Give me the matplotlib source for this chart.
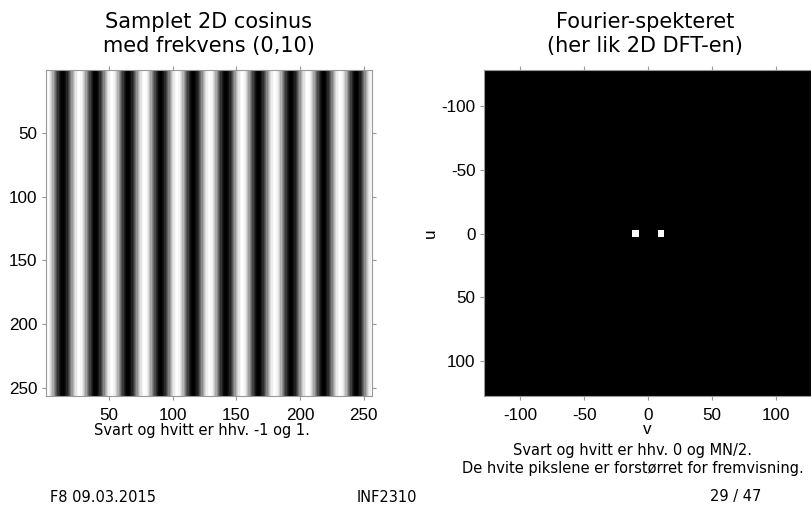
import numpy as np
import matplotlib
matplotlib.use("Agg")
import matplotlib.pyplot as plt

plt.rcParams["axes.unicode_minus"] = False

# bildestorrelse og frekvens
M, N = 256, 256
u0, v0 = 0, 10
forstorr = 2  # hvite piksler forstorres med +-2 for visning

titles = ["Samplet 2D cosinus\nmed frekvens (0,10)",
          "Fourier-spekteret\n(her lik 2D DFT-en)"]
captions = ["Svart og hvitt er hhv. -1 og 1.",
            "Svart og hvitt er hhv. 0 og MN/2.\nDe hvite pikslene er forstørret for fremvisning."]
left_ticks = [50, 100, 150, 200, 250]
right_ticks = [-100, -50, 0, 50, 100]
footer = ["F8 09.03.2015", "INF2310", "29 / 47"]

# samplet cosinus
m = np.arange(M).reshape(-1, 1)
n = np.arange(N).reshape(1, -1)
img = np.cos(2 * np.pi * (u0 * m / M + v0 * n / N))

# spekteret, sentrert
F = np.fft.fftshift(np.abs(np.fft.fft2(img)))
Fbig = F.copy()
for dy in range(-forstorr, forstorr + 1):
    for dx in range(-forstorr, forstorr + 1):
        Fbig = np.maximum(Fbig, np.roll(np.roll(F, dy, axis=0), dx, axis=1))

W, H = 812, 509
fig = plt.figure(figsize=(W / 100, H / 100), dpi=100)
tick_font = "Liberation Sans"
text_font = "DejaVu Sans"

def style_axes(ax):
    for s in ax.spines.values():
        s.set_color("#999999")
        s.set_linewidth(0.8)
    ax.tick_params(direction="out", length=3, color="#999999", width=0.8,
                   top=True, right=True, labelsize=12.3)
    ax.tick_params(axis="x", pad=6)
    ax.tick_params(axis="y", pad=3)
    for lab in ax.get_xticklabels() + ax.get_yticklabels():
        lab.set_fontfamily(tick_font)

# venstre bilde
ax1 = fig.add_axes([46 / W, 1 - 396 / H, 326 / W, 326 / H])
ax1.imshow(img, cmap="gray", vmin=-1, vmax=1, extent=(0.5, N + 0.5, M + 0.5, 0.5),
           aspect="auto", interpolation="nearest")
ax1.set_xticks(left_ticks)
ax1.set_yticks(left_ticks)
style_axes(ax1)

# hoyre bilde
ax2 = fig.add_axes([484 / W, 1 - 396 / H, 327 / W, 326 / H])
ax2.imshow(Fbig, cmap="gray", vmin=0, vmax=M * N / 2,
           extent=(-N / 2 - 0.5, N / 2 - 0.5, M / 2 - 0.5, -M / 2 - 0.5),
           aspect="auto", interpolation="nearest")
ax2.set_xticks(right_ticks)
ax2.set_yticks(right_ticks)
style_axes(ax2)
ax2.set_xlabel("v", fontsize=12.3, fontfamily=tick_font, labelpad=-1)
ax2.set_ylabel("u", fontsize=12.3, fontfamily=tick_font, labelpad=3)

# titler
fig.text(209 / W, 1 - 34 / H, titles[0], ha="center", va="center",
         fontsize=15, fontfamily=text_font, linespacing=1.25)
fig.text(645 / W, 1 - 34 / H, titles[1], ha="center", va="center",
         fontsize=15, fontfamily=text_font, linespacing=1.25)

# bildetekster
fig.text(202 / W, 1 - 430 / H, captions[0], ha="center", va="center",
         fontsize=10.5, fontfamily=text_font)
fig.text(633 / W, 1 - 459 / H, captions[1], ha="center", va="center",
         fontsize=10.5, fontfamily=text_font, linespacing=1.25)

# bunntekst
fig.text(50 / W, 1 - 497 / H, footer[0], ha="left", va="center",
         fontsize=10.5, fontfamily=text_font)
fig.text(387 / W, 1 - 497 / H, footer[1], ha="center", va="center",
         fontsize=10.5, fontfamily=text_font)
fig.text(736 / W, 1 - 497 / H, footer[2], ha="center", va="center",
         fontsize=10.5, fontfamily=text_font)

fig.savefig("out.png", dpi=100)
